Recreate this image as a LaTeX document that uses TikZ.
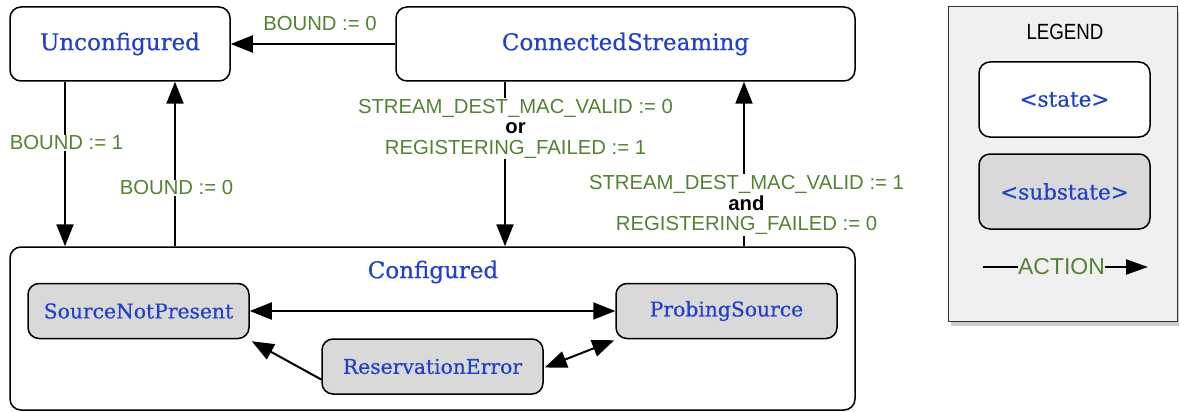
\documentclass[tikz,border=0pt]{standalone}
\usepackage{fontspec}
\setmainfont{DejaVu Serif}
\newfontfamily\stfont[FakeBold=0.5]{DejaVu Serif}
\newfontfamily\labfont{Liberation Sans}
\newfontfamily\narrowfont[FakeStretch=0.85]{Liberation Sans}
\usetikzlibrary{arrows.meta,shadows,calc}
\definecolor{stblue}{HTML}{2142C8}
\definecolor{actgreen}{HTML}{548235}
\definecolor{subfill}{HTML}{D9D9D9}
\definecolor{legbg}{HTML}{F0F0F0}
\definecolor{bordergray}{HTML}{333333}
\tikzset{
  statebox/.style={draw=black, line width=1.5pt, rounded corners=11pt, fill=white,
    text=stblue, font=\stfont\fontsize{23}{27}\selectfont, inner sep=0pt},
  subbox/.style={draw=black, line width=1.5pt, rounded corners=11pt, fill=subfill,
    text=stblue, font=\stfont\fontsize{20.3}{24}\selectfont, inner sep=0pt,
    minimum width=221pt, minimum height=55pt},
  conn/.style={line width=2pt, -{Triangle[length=22pt,width=17pt]}},
  dconn/.style={line width=2pt, {Triangle[length=22pt,width=17pt]}-{Triangle[length=22pt,width=17pt]}},
  lab/.style={text=actgreen, font=\labfont\fontsize{20.3}{20.5}\selectfont, align=center,
    fill=white, inner sep=1pt}
}
\begin{document}
\begin{tikzpicture}[x=1pt,y=-1pt]
\useasboundingbox (0,0) rectangle (1179,412);
\fill[white] (0,0) rectangle (1179,412);

% states
\node[statebox, minimum width=220pt, minimum height=74pt] (unc) at (120,44) {Unconfigured};
\node[statebox, minimum width=459pt, minimum height=74pt] (cs) at (625.5,44) {ConnectedStreaming};
\node[statebox, minimum width=845pt, minimum height=163pt] (cfg) at (432.5,328.5) {};
\node[text=stblue, font=\stfont\fontsize{23}{27}\selectfont] (cfgtitle) at (433,272) {Configured};

% substates
\node[subbox] (snp) at (138.5,311) {SourceNotPresent};
\node[subbox] (ps) at (726.5,311) {ProbingSource};
\node[subbox] (re) at (432.5,366.5) {ReservationError};

% helper x positions
\coordinate (xa) at (65,0);
\coordinate (xb) at (175,0);
\coordinate (xc) at (505,0);
\coordinate (xd) at (744,0);

% transitions
\draw[conn] (cs.west) -- (unc.east);
\node[lab, fill=none] (lb0) at (320,24) {BOUND := 0};

\draw[conn] (unc.south -| xa) -- (cfg.north -| xa);
\node[lab] (lb1) at (66.5,143) {BOUND := 1};

\draw[conn] (cfg.north -| xb) -- (unc.south -| xb);
\node[lab] (lb2) at (176.5,188) {BOUND := 0};

\draw[conn] (cs.south -| xc) -- (cfg.north -| xc);
\node[lab] (lb3) at (515.5,128.5) {STREAM\_DEST\_MAC\_VALID := 0\\
  {\labfont\bfseries\color{black}or}\\ REGISTERING\_FAILED := 1};

\draw[conn] (cfg.north -| xd) -- (cs.south -| xd);
\node[lab] (lb4) at (746.5,205) {STREAM\_DEST\_MAC\_VALID := 1\\
  {\labfont\bfseries\color{black}and}\\ REGISTERING\_FAILED := 0};

% inner transitions
\draw[dconn] (snp.east) -- (ps.west);
\draw[conn] ([yshift=-13pt]re.west) -- ([xshift=2pt,yshift=-2pt]snp.south east);
\draw[dconn] ([xshift=1pt,yshift=-1pt]re.east) -- ([xshift=-1pt,yshift=-1pt]ps.south west);

% legend
\node[draw=bordergray, line width=1pt, fill=legbg, minimum width=229pt, minimum height=314pt,
  inner sep=0pt, drop shadow={shadow xshift=3pt, shadow yshift=-5pt, opacity=0.4}] (leg) at (1062.5,164) {};
\node[font=\narrowfont\fontsize{22}{24}\selectfont, text=black] (legtitle) at (1065,32) {LEGEND};
\node[statebox, font=\stfont\fontsize{21.5}{25}\selectfont, minimum width=171pt, minimum height=75pt] (lstate) at (1064.5,99.5) {<state>};
\node[subbox, font=\stfont\fontsize{21.5}{25}\selectfont, minimum width=171pt, minimum height=75pt] (lsub) at (1064.5,191.5) {<substate>};
\coordinate (la) at (983,267);
\coordinate (lbb) at (1148,267);
\draw[line width=2pt, -{Triangle[length=22pt,width=15pt]}] (la) -- node[text=actgreen, font=\labfont\fontsize{23}{24}\selectfont, fill=legbg, inner sep=0pt, xshift=-4pt] (lact) {ACTION} (lbb);
\end{tikzpicture}
\end{document}
